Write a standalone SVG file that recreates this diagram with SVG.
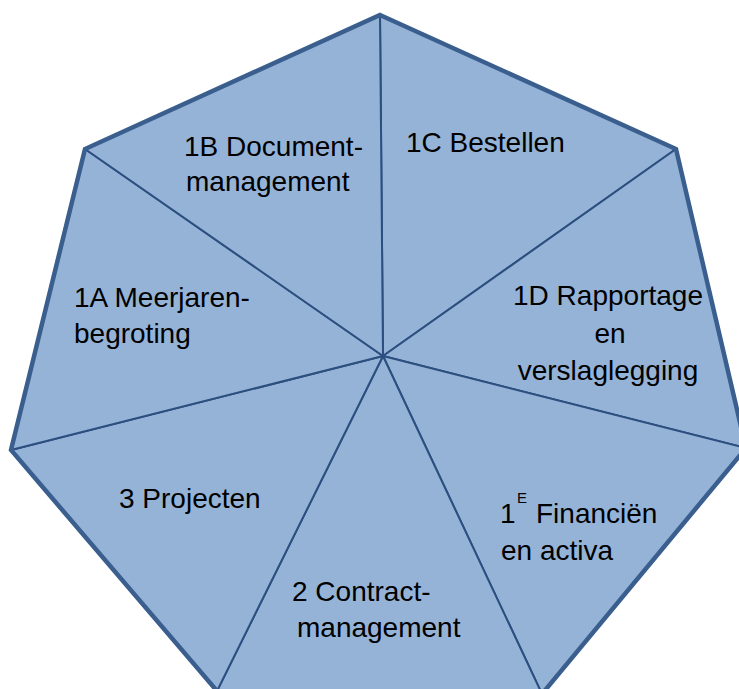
<svg xmlns="http://www.w3.org/2000/svg" width="739" height="689" viewBox="0 0 739 689">
  <style>
    .sector { fill: #95b3d7; stroke: #2c4f80; stroke-width: 2; stroke-linejoin: round; }
    .outline { fill: none; stroke: #3a5f8e; stroke-width: 4.5; stroke-linejoin: miter; }
    .lbl { font-family: "Liberation Sans", Arial, sans-serif; font-size: 28px; fill: #000000; }
    .mid { text-anchor: middle; }
    .sup { font-size: 15px; }
  </style>
  <rect width="739" height="689" fill="#ffffff"/>
  <g id="sector-1C">
    <polygon class="sector" points="383,356 380,15 676,149"/>
    <text class="lbl" x="406" y="152">1C Bestellen</text>
  </g>
  <g id="sector-1D">
    <polygon class="sector" points="383,356 676,149 746,448"/>
    <text class="lbl mid" x="608" y="305">1D Rapportage</text>
    <text class="lbl mid" x="610" y="343">en</text>
    <text class="lbl mid" x="608" y="380">verslaglegging</text>
  </g>
  <g id="sector-1E">
    <polygon class="sector" points="383,356 746,448 542,694"/>
    <text class="lbl" x="500" y="523">1</text>
    <text class="lbl sup" x="517" y="503">E</text>
    <text class="lbl" x="536" y="523">Financiën</text>
    <text class="lbl" x="501" y="560">en activa</text>
  </g>
  <g id="sector-2">
    <polygon class="sector" points="383,356 542,694 217,691"/>
    <text class="lbl" x="292" y="601">2 Contract-</text>
    <text class="lbl" x="297" y="637">management</text>
  </g>
  <g id="sector-3">
    <polygon class="sector" points="383,356 217,691 11,450"/>
    <text class="lbl" x="119" y="508">3 Projecten</text>
  </g>
  <g id="sector-1A">
    <polygon class="sector" points="383,356 11,450 85,149"/>
    <text class="lbl" x="74" y="307">1A Meerjaren-</text>
    <text class="lbl" x="74" y="343">begroting</text>
  </g>
  <g id="sector-1B">
    <polygon class="sector" points="383,356 85,149 380,15"/>
    <text class="lbl" x="184" y="156">1B Document-</text>
    <text class="lbl" x="186" y="191">management</text>
  </g>
  <g id="connectors">
    <polygon class="outline" points="380,15 676,149 746,448 542,694 217,691 11,450 85,149"/>
  </g>
</svg>
